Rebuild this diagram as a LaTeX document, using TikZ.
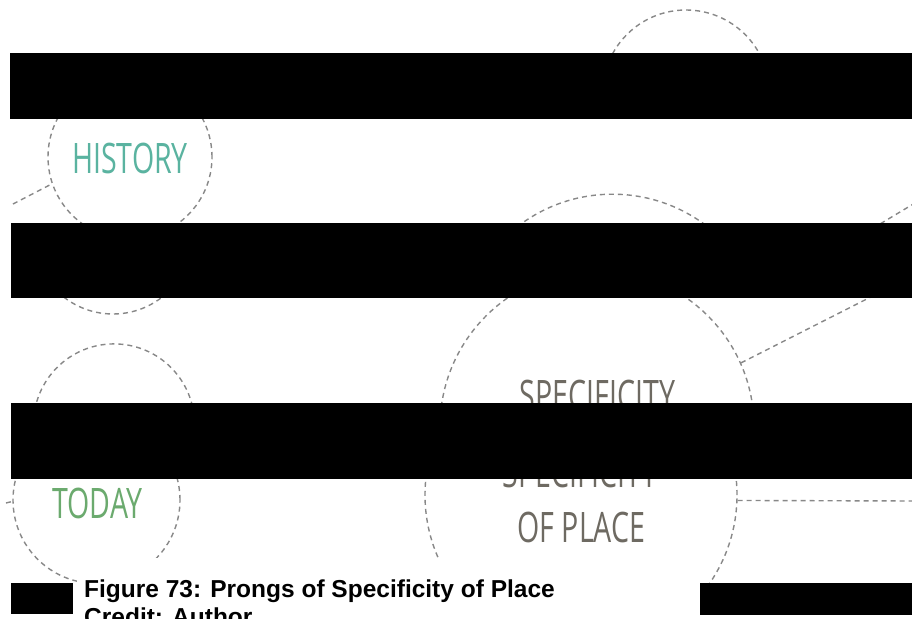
\documentclass[tikz,border=0pt]{standalone}
\usepackage{fontspec}
\newfontfamily\condfont[FakeStretch=0.68]{Open Sans}
\newfontfamily\capfont{Liberation Sans}
\definecolor{dashgray}{HTML}{888888}
\definecolor{histteal}{HTML}{5AB3A0}
\definecolor{todaygreen}{HTML}{6BAA6E}
\definecolor{txtgray}{HTML}{6E6A62}
\begin{document}
\begin{tikzpicture}[x=1pt,y=-1pt,
  ring/.style={draw=dashgray, line width=1.4pt, dash pattern=on 5pt off 4pt, circle, inner sep=0pt, minimum size=#1},
  dline/.style={draw=dashgray, line width=1.4pt, dash pattern=on 5pt off 4pt},
  bigword/.style={font=\condfont\fontsize{42}{42}\selectfont, inner sep=0pt, anchor=base},
  capword/.style={font=\capfont\bfseries\fontsize{24.5}{28}\selectfont, inner sep=0pt, anchor=base west},
  redact/.style={fill=black, draw=none}]
\useasboundingbox (0,0) rectangle (912,618);
\clip (0,0) rectangle (912,618);
\fill[white] (0,0) rectangle (912,618);
% band A
\begin{scope}
  \clip (0,0) rectangle (912,53);
  \node[ring=167pt] (topc) at (686,93.5) {};
\end{scope}
% band B
\begin{scope}
  \clip (0,119) rectangle (912,223);
  \node[ring=164pt] (histc) at (130,157) {};
  \node[bigword, text=histteal] (hist) at (130,173) {HISTORY};
  \node[ring=311pt] (specB) at (612.5,349.7) {};
  \coordinate (lB) at (13,204);
  \draw[dline] (lB) -- (histc.199);
  \coordinate (rB1) at (865,233);
  \coordinate (rB2) at (915,203);
  \draw[dline] (rB1) -- (rB2);
\end{scope}
% band C
\begin{scope}
  \clip (0,298) rectangle (912,403);
  \node[ring=160pt] (arcC) at (113,234) {};
  \node[ring=161pt] (todayC) at (114,424.4) {};
  \node[ring=314pt] (specC) at (597,427) {};
  \node[bigword, text=txtgray] (specwordC) at (597.5,410) {SPECIFICITY};
  \coordinate (rC) at (920,272);
  \draw[dline] (specC.24) -- (rC);
\end{scope}
% band D
\begin{scope}
  \clip (0,479) rectangle (912,583);
  \node[ring=167pt] (todayc) at (96.5,500) {};
  \node[bigword, text=todaygreen] (today) at (97.5,518) {TODAY};
  \node[ring=312pt] (specD) at (581,495) {};
  \node[bigword, text=txtgray] (specwordD) at (580,487) {SPECIFICITY};
  \node[bigword, text=txtgray] (ofplace) at (581.5,542) {OF PLACE};
  \coordinate (rD) at (915,501);
  \draw[dline] (specD.-2) -- (rD);
  \coordinate (lD) at (6,503);
  \draw[dline] (lD) -- (todayc.181);
\end{scope}
% caption
\fill[white] (77,558) rectangle (700,618);
\node[capword] (cap1) at (84,597) {Figure 73: Prongs of Specificity of Place};
\node[capword] (cap2) at (84,625) {Credit: Author};
% redaction bars
\fill[redact] (10,53) rectangle (912,119);
\fill[redact] (11,223) rectangle (912,298);
\fill[redact] (11,403) rectangle (912,479);
\fill[redact] (11,583) rectangle (73,614);
\fill[redact] (700,583) rectangle (912,615);
\end{tikzpicture}
\end{document}
